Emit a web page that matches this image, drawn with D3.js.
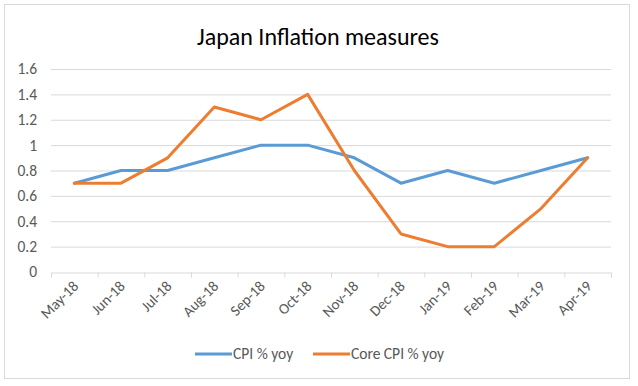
<!DOCTYPE html>
<html><head><meta charset="utf-8">
<script src="https://cdn.jsdelivr.net/npm/d3@7"></script>
<style>body{margin:0;background:#fff;}svg{display:block;}text{font-family:Carlito,Lato,"Open Sans",sans-serif;}</style>
</head><body><svg id="c" width="638" height="386"></svg>
<script>
const months = ["May-18","Jun-18","Jul-18","Aug-18","Sep-18","Oct-18","Nov-18","Dec-18","Jan-19","Feb-19","Mar-19","Apr-19"];
const cpi = [0.7,0.8,0.8,0.9,1.0,1.0,0.9,0.7,0.8,0.7,0.8,0.9];
const coreCpi = [0.7,0.7,0.9,1.3,1.2,1.4,0.8,0.3,0.2,0.2,0.5,0.9];
const yTicks = [0,0.2,0.4,0.6,0.8,1,1.2,1.4,1.6];
const seriesNames = ["CPI % yoy","Core CPI % yoy"];
const colors = ["#5B9BD5","#ED7D31"];

const svg = d3.select("#c");
svg.append("rect").attr("x",4.5).attr("y",4.5).attr("width",625).attr("height",374)
  .attr("fill","#fff").attr("stroke","#d9d9d9");

const x = d3.scaleBand().domain(months).range([51,611]);
const y = d3.scaleLinear().domain([0,1.6]).range([272,69]);

svg.append("g").selectAll("line").data(yTicks.filter(d=>d>0)).join("line")
  .attr("x1",51).attr("x2",611).attr("y1",d=>y(d)+0.5).attr("y2",d=>y(d)+0.5)
  .attr("stroke","#d9d9d9").attr("stroke-width",1);

svg.append("g").selectAll("text").data(yTicks).join("text")
  .attr("x",37).attr("y",d=>y(d)).attr("dy","0.35em").attr("text-anchor","end")
  .attr("fill","#595959").attr("font-size",15.5).text(d=>d);

const xa = svg.append("g").attr("transform","translate(0,272.5)")
  .call(d3.axisBottom(x).tickSize(5).tickSizeOuter(0).tickFormat(""));
xa.select(".domain").attr("stroke","#d9d9d9");
xa.selectAll(".tick line").remove();
const edges = months.map((m)=>x(m)).concat([611]);
xa.selectAll(".edge").data(edges).join("line").attr("class","edge")
  .attr("x1",d=>d+0.5).attr("x2",d=>d+0.5).attr("y1",0).attr("y2",5).attr("stroke","#d9d9d9");

svg.append("g").selectAll("text").data(months).join("text")
  .attr("transform",d=>`translate(${x(d)+x.bandwidth()/2+5},${287}) rotate(-45)`)
  .attr("text-anchor","end").attr("fill","#595959").attr("font-size",15).text(d=>d);

const line = d3.line().x((d,i)=>x(months[i])+x.bandwidth()/2).y(d=>y(d));
[cpi,coreCpi].forEach((s,i)=>{
  svg.append("path").datum(s).attr("d",line).attr("fill","none")
    .attr("stroke",colors[i]).attr("stroke-width",3).attr("stroke-linejoin","round").attr("stroke-linecap","round");
});

svg.append("text").attr("x",318).attr("y",45).attr("text-anchor","middle")
  .attr("font-size",24).attr("fill","#000").text("Japan Inflation measures");

const legX = [195,313];
seriesNames.forEach((n,i)=>{
  svg.append("line").attr("x1",legX[i]).attr("x2",legX[i]+37).attr("y1",354).attr("y2",354)
    .attr("stroke",colors[i]).attr("stroke-width",3);
  svg.append("text").attr("x",legX[i]+38).attr("y",354).attr("dy","0.35em")
    .attr("fill","#595959").attr("font-size",15.5).text(n);
});
</script></body></html>
